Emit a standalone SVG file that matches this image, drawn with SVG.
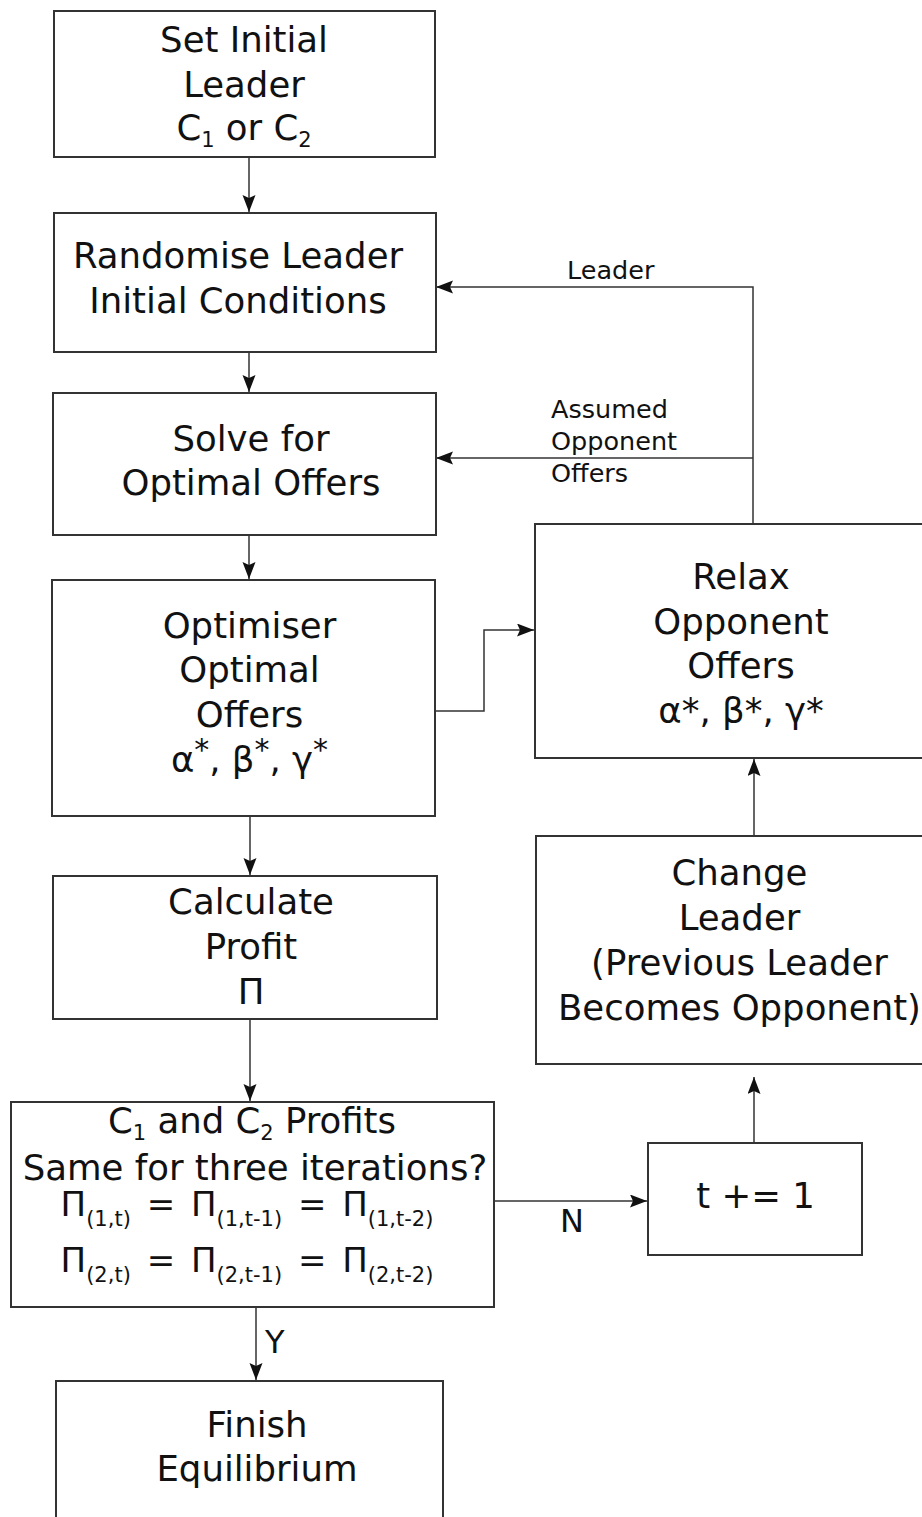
<svg xmlns="http://www.w3.org/2000/svg" width="922" height="1517" viewBox="0 0 922 1517">
<style>
text{font-family:"DejaVu Sans","Liberation Sans",sans-serif;fill:#111;}
.t{font-size:35.5px;text-anchor:middle;}
.pi{font-size:34px;text-anchor:middle;word-spacing:5px;}
.sub{font-size:21px;}
.lab{font-size:25.5px;}
.yn{font-size:32px;}
rect.b{fill:#fff;stroke:#333;stroke-width:2;}
.c{fill:none;stroke:#333;stroke-width:1.5;}
</style>
<defs>
<marker id="ah" markerUnits="userSpaceOnUse" markerWidth="18" markerHeight="14" refX="17" refY="6.5" orient="auto">
<path d="M0,0 L17,6.5 L0,13 L3,6.5 z" fill="#111"/>
</marker>
</defs>
<rect width="922" height="1517" fill="#fff"/>

<g id="connectors">
<line class="c" x1="249" y1="157" x2="249" y2="212" marker-end="url(#ah)"/>
<line class="c" x1="249" y1="352" x2="249" y2="392" marker-end="url(#ah)"/>
<line class="c" x1="249" y1="535" x2="249" y2="579" marker-end="url(#ah)"/>
<line class="c" x1="250" y1="816" x2="250" y2="875" marker-end="url(#ah)"/>
<line class="c" x1="250" y1="1019" x2="250" y2="1101" marker-end="url(#ah)"/>
<line class="c" x1="256" y1="1307" x2="256" y2="1380" marker-end="url(#ah)"/>
<line class="c" x1="494" y1="1201" x2="647" y2="1201" marker-end="url(#ah)"/>
<line class="c" x1="754" y1="1143" x2="754" y2="1077" marker-end="url(#ah)"/>
<line class="c" x1="754" y1="836" x2="754" y2="759" marker-end="url(#ah)"/>
<polyline class="c" points="435,711 484,711 484,630 534,630" marker-end="url(#ah)"/>
<polyline class="c" points="753,524 753,287 436,287" marker-end="url(#ah)"/>
<line class="c" x1="753" y1="458" x2="436" y2="458" marker-end="url(#ah)"/>
<text class="lab" x="567" y="279">Leader</text>
<text class="lab" x="551" y="418">Assumed</text>
<text class="lab" x="551" y="450">Opponent</text>
<text class="lab" x="551" y="482">Offers</text>
<text class="yn" x="265" y="1353">Y</text>
<text class="yn" x="560" y="1232">N</text>
</g>

<g id="set-initial-leader">
<rect class="b" x="54" y="11" width="381" height="146"/>
<text class="t" x="244" y="52">Set Initial</text>
<text class="t" x="244" y="97">Leader</text>
<text class="t" x="244" y="140">C<tspan class="sub" dy="7">1</tspan><tspan dy="-7"> or C</tspan><tspan class="sub" dy="7">2</tspan></text>
</g>

<g id="randomise">
<rect class="b" x="54" y="213" width="382" height="139"/>
<text class="t" x="238" y="268">Randomise Leader</text>
<text class="t" x="238" y="313">Initial Conditions</text>
</g>

<g id="solve">
<rect class="b" x="53" y="393" width="383" height="142"/>
<text class="t" x="251" y="451">Solve for</text>
<text class="t" x="251" y="495">Optimal Offers</text>
</g>

<g id="optimiser">
<rect class="b" x="52" y="580" width="383" height="236"/>
<text class="t" x="249.5" y="638">Optimiser</text>
<text class="t" x="249.5" y="682">Optimal</text>
<text class="t" x="249.5" y="727">Offers</text>
<text class="t" x="249.5" y="772">α<tspan font-size="30" dy="-12">*</tspan><tspan dy="12">, β</tspan><tspan font-size="30" dy="-12">*</tspan><tspan dy="12">, γ</tspan><tspan font-size="30" dy="-12">*</tspan></text>
</g>

<g id="calculate-profit">
<rect class="b" x="53" y="876" width="384" height="143"/>
<text class="t" x="251" y="914">Calculate</text>
<text class="t" x="251" y="959">Profit</text>
<text class="t" x="251" y="1004">Π</text>
</g>

<g id="check-profits">
<rect class="b" x="11" y="1102" width="483" height="205"/>
<text class="t" x="252" y="1133">C<tspan class="sub" dy="7">1</tspan><tspan dy="-7"> and C</tspan><tspan class="sub" dy="7">2</tspan><tspan dy="-7"> Profits</tspan></text>
<text class="t" x="255" y="1180">Same for three iterations?</text>
<text class="pi" x="247" y="1216">Π<tspan class="sub" dy="10">(1,t)</tspan><tspan dy="-10"> = Π</tspan><tspan class="sub" dy="10">(1,t-1)</tspan><tspan dy="-10"> = Π</tspan><tspan class="sub" dy="10">(1,t-2)</tspan></text>
<text class="pi" x="247" y="1272">Π<tspan class="sub" dy="10">(2,t)</tspan><tspan dy="-10"> = Π</tspan><tspan class="sub" dy="10">(2,t-1)</tspan><tspan dy="-10"> = Π</tspan><tspan class="sub" dy="10">(2,t-2)</tspan></text>
</g>

<g id="finish">
<rect class="b" x="56" y="1381" width="387" height="160"/>
<text class="t" x="257" y="1437">Finish</text>
<text class="t" x="257" y="1481">Equilibrium</text>
</g>

<g id="relax">
<rect class="b" x="535" y="524" width="412" height="234"/>
<text class="t" x="741" y="589">Relax</text>
<text class="t" x="741" y="634">Opponent</text>
<text class="t" x="741" y="678">Offers</text>
<text class="t" x="741" y="723">α*, β*, γ*</text>
</g>

<g id="change-leader">
<rect class="b" x="536" y="836" width="408" height="228"/>
<text class="t" x="739.5" y="885">Change</text>
<text class="t" x="739.5" y="930">Leader</text>
<text class="t" x="739.5" y="975">(Previous Leader</text>
<text class="t" x="739.5" y="1020">Becomes Opponent)</text>
</g>

<g id="increment">
<rect class="b" x="648" y="1143" width="214" height="112"/>
<text class="t" x="755.5" y="1208">t += 1</text>
</g>
</svg>
